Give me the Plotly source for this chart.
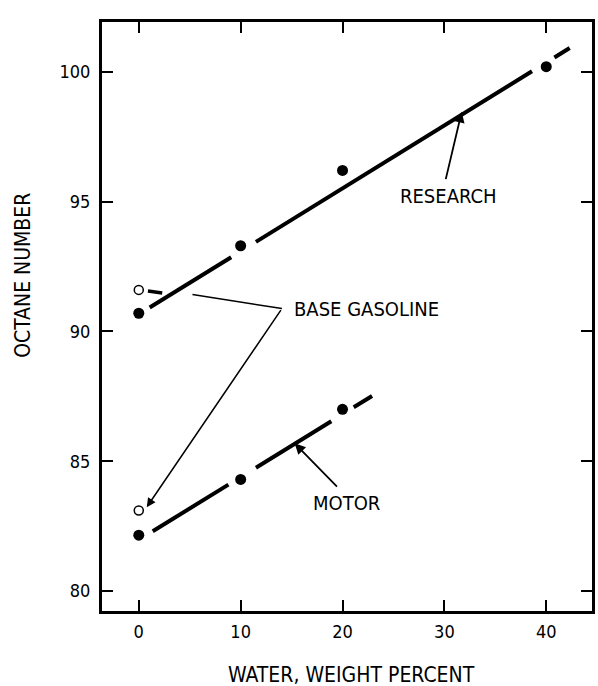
import plotly.graph_objects as go

# ---- data ----
water_pct = [0, 10, 20, 40]
research_octane = [90.7, 93.3, 96.2, 100.2]
motor_water_pct = [0, 10, 20]
motor_octane = [82.15, 84.3, 87.0]
base_water_pct = [0, 0]
base_octane = [91.6, 83.1]  # research, motor of base gasoline (open circles)

# fitted lines, drawn as broken segments (x0, y0, x1, y1)
research_fit_segments = [
    [1.07, 90.92, 9.07, 92.86],
    [11.5, 93.45, 38.6, 100.02],
    [40.8, 100.55, 42.3, 100.92],
]
motor_fit_segments = [
    [1.37, 82.30, 8.8, 84.10],
    [11.5, 84.75, 18.9, 86.54],
    [21.1, 87.08, 22.9, 87.51],
]
base_tick_segment = [0.9, 91.56, 2.3, 91.48]
base_leader = [[5.27, 91.42], [14.05, 90.88]]

x_ticks = [0, 10, 20, 30, 40]
y_ticks = [80, 85, 90, 95, 100]

FONT = "Liberation Sans Narrow, DejaVu Sans Condensed, Arial Narrow, sans-serif"

fig = go.Figure()

def seg_trace(segs, width):
    xs, ys = [], []
    for s in segs:
        xs += [s[0], s[2], None]
        ys += [s[1], s[3], None]
    return go.Scatter(x=xs, y=ys, mode="lines",
                      line=dict(color="black", width=width),
                      showlegend=False, hoverinfo="skip")

fig.add_trace(seg_trace(research_fit_segments, 4))
fig.add_trace(seg_trace(motor_fit_segments, 4))
fig.add_trace(seg_trace([base_tick_segment], 3.5))
fig.add_trace(go.Scatter(x=[p[0] for p in base_leader], y=[p[1] for p in base_leader],
                         mode="lines", line=dict(color="black", width=1.5),
                         showlegend=False, hoverinfo="skip"))

fig.add_trace(go.Scatter(x=water_pct, y=research_octane, mode="markers",
                         marker=dict(color="black", size=11),
                         showlegend=False, name="Research"))
fig.add_trace(go.Scatter(x=motor_water_pct, y=motor_octane, mode="markers",
                         marker=dict(color="black", size=11),
                         showlegend=False, name="Motor"))
fig.add_trace(go.Scatter(x=base_water_pct, y=base_octane, mode="markers",
                         marker=dict(color="white", size=9,
                                     line=dict(color="black", width=1.5)),
                         showlegend=False, name="Base gasoline"))

txt = dict(family=FONT, size=20, color="black")
annotations = [
    # labels
    dict(x=15.0, y=90.88, text="BASE GASOLINE", showarrow=False,
         xanchor="left", yanchor="middle", font=txt),
    dict(x=30.4, y=95.23, text="RESEARCH", showarrow=False,
         xanchor="center", yanchor="middle", font=txt),
    dict(x=20.4, y=83.38, text="MOTOR", showarrow=False,
         xanchor="center", yanchor="middle", font=txt),
    # arrows
    dict(x=0.78, y=83.23, ax=14.05, ay=90.88, axref="x", ayref="y",
         text="", showarrow=True, arrowhead=2, arrowsize=1.2,
         arrowwidth=1.5, arrowcolor="black"),
    dict(x=31.7, y=98.46, ax=30.1, ay=95.81, axref="x", ayref="y",
         text="", showarrow=True, arrowhead=2, arrowsize=1.2,
         arrowwidth=1.8, arrowcolor="black"),
    dict(x=15.3, y=85.69, ax=19.6, ay=83.96, axref="x", ayref="y",
         text="", showarrow=True, arrowhead=2, arrowsize=1.2,
         arrowwidth=1.8, arrowcolor="black"),
    # axis titles
    dict(x=0.509, y=0, xref="paper", yref="paper", text="WATER, WEIGHT PERCENT",
         showarrow=False, xanchor="center", yanchor="middle", yshift=-64,
         font=dict(family=FONT, size=21, color="black")),
    dict(x=0, y=0.569, xref="paper", yref="paper", text="OCTANE NUMBER",
         showarrow=False, xanchor="center", yanchor="middle", xshift=-79,
         textangle=-90, font=dict(family=FONT, size=21, color="black")),
]

axis_common = dict(showgrid=False, zeroline=False, showline=True, linecolor="black",
                   linewidth=3, mirror="ticks", ticks="inside", ticklen=11,
                   tickwidth=2, tickcolor="black",
                   tickfont=dict(family=FONT, size=18, color="black"))

fig.update_layout(
    width=598, height=686,
    margin=dict(l=102, r=3, t=22, b=75),
    paper_bgcolor="white", plot_bgcolor="white",
    xaxis=dict(range=[-3.61, 44.49], tickvals=x_ticks, ticklabelstandoff=2, **axis_common),
    yaxis=dict(range=[79.23, 101.92], tickvals=y_ticks, ticklabelstandoff=5, **axis_common),
    annotations=annotations,
    showlegend=False,
)

fig.write_html("out.html")
